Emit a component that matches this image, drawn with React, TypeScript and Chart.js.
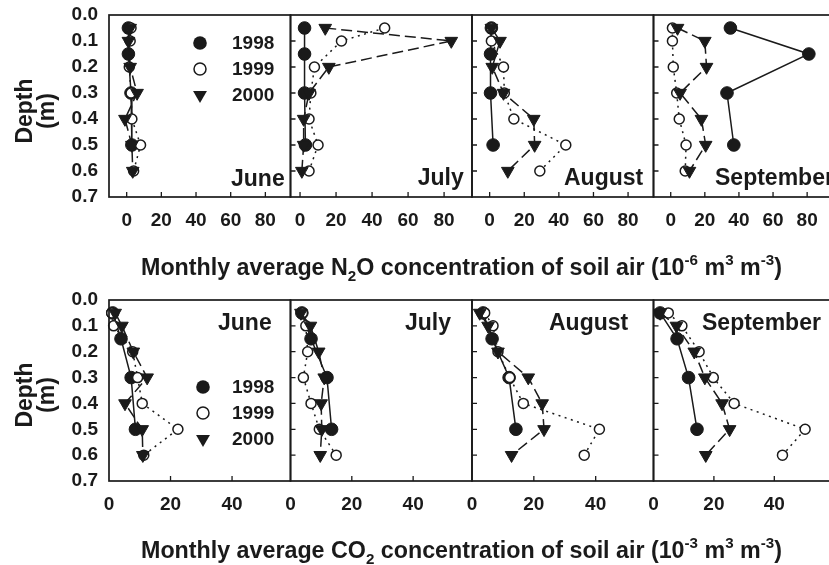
import React, { useEffect, useRef } from 'react';
import { Chart, registerables } from 'chart.js';

Chart.register(...registerables);

// ---------------- data ----------------
const MONTHS = ['June', 'July', 'August', 'September'];
const YEARS = ['1998', '1999', '2000'];

const DEPTHS_1998 = [0.05, 0.15, 0.3, 0.5];
const DEPTHS_1999_2000 = [0.05, 0.1, 0.2, 0.3, 0.4, 0.5, 0.6];

const DEPTH_TICKS = [0, 0.1, 0.2, 0.3, 0.4, 0.5, 0.6, 0.7];
const N2O_TICKS = [0, 20, 40, 60, 80];
const CO2_TICKS = [0, 20, 40];

// N2O (10^-6 m3 m-3), one row per month (June, July, August, September)
const N2O_1998 = [
  [1, 1, 2.5, 3],
  [2.5, 2.5, 2.5, 3],
  [1, 0.5, 0.5, 2],
  [35, 81, 33, 37],
];
const N2O_1999 = [
  [2.5, 2, 1.5, 2.5, 3, 8, 4],
  [47, 23, 8, 6, 5, 10, 5],
  [1, 1, 8, 8.5, 14, 44, 29],
  [1, 1, 1.5, 3.5, 5, 9, 8.5],
];
const N2O_2000 = [
  [2, 1, 2, 6, -1, 3, 3.5],
  [14, 84, 16, 5, 2, 2, 1],
  [1, 6, 1.5, 8, 25.5, 26, 10.5],
  [4, 20, 21, 5.5, 18, 20.5, 11],
];

// CO2 (10^-3 m3 m-3)
const CO2_1998 = [
  [1.2, 3.9, 7.2, 8.6],
  [3.7, 6.7, 11.9, 13.4],
  [3.6, 6.5, 12, 14.2],
  [2.2, 7.8, 11.6, 14.4],
];
const CO2_1999 = [
  [0.9, 1.5, 7.7, 9.3, 10.8, 22.4, 11.3],
  [3.9, 5, 5.6, 4.2, 6.7, 9.4, 14.9],
  [4.1, 6.8, 8.4, 12.2, 16.6, 41.2, 36.3],
  [4.9, 9.4, 15.1, 19.8, 26.7, 50.2, 42.7],
];
const CO2_2000 = [
  [2, 4.2, 7.9, 12.4, 5.2, 10.8, 11],
  [3.4, 6.5, 9.2, 11, 10, 10.2, 9.7],
  [2.5, 5.2, 8.4, 18.2, 22.7, 23.3, 12.8],
  [2.2, 7.6, 13.5, 17, 22.7, 25.2, 17.3],
];

const N2O_TITLE = [
  { t: 'Monthly average N' }, { t: '2', s: 'sub' }, { t: 'O concentration of soil air (10' },
  { t: '-6', s: 'sup' }, { t: ' m' }, { t: '3', s: 'sup' }, { t: ' m' }, { t: '-3', s: 'sup' }, { t: ')' },
];
const CO2_TITLE = [
  { t: 'Monthly average CO' }, { t: '2', s: 'sub' }, { t: ' concentration of soil air (10' },
  { t: '-3', s: 'sup' }, { t: ' m' }, { t: '3', s: 'sup' }, { t: ' m' }, { t: '-3', s: 'sup' }, { t: ')' },
];
const Y_LABEL = ['Depth', '(m)'];

// ---------------- layout / style ----------------
const CANVAS_W = 840;
const CANVAS_H = 565;
const INK = '#1a1a1a';
const FONT = '"Liberation Sans", Arial, Helvetica, sans-serif';
const COL_EDGES = [109, 290.5, 472, 653.5, 835];
const ROW_BOXES = [
  { top: 15, bottom: 197 },
  { top: 300, bottom: 481 },
];
const N2O_RANGES = [[-10.2, 94.5], [-5.3, 95.5], [-10.2, 94.7], [-10.1, 94.4]];
const CO2_RANGES = [[0, 59], [0, 59.2], [0, 58.7], [0, 59]];
const Y_AXIS_W = 60;
const X_AXIS_H = 50;
const MONTH_POS = [
  [[231, 186], [417.7, 185], [564, 185], [715, 185]],
  [[218, 330], [405, 330], [549, 330], [702, 330]],
];
const LEGEND_POS = [
  { mx: 200, tx: 232, ys: [43, 69, 95] },
  { mx: 203, tx: 232, ys: [387, 413, 439] },
];
const TITLE_POS = [
  { x: 141, y: 275, w: 641 },
  { x: 141, y: 558, w: 641 },
];
const DEPTH_LABEL_POS = [
  { cy: 111, x1: 32, x2: 54 },
  { cy: 395, x1: 32, x2: 54 },
];

const SERIES_STYLE = [
  { pointStyle: 'circle', pointRadius: 6.3, pointRotation: 0, pointBackgroundColor: INK, pointBorderWidth: 1, borderDash: [] as number[], order: 2 },
  { pointStyle: 'circle', pointRadius: 5, pointRotation: 0, pointBackgroundColor: '#ffffff', pointBorderWidth: 1.5, borderDash: [2, 4.5], order: 1 },
  { pointStyle: 'triangle', pointRadius: 7.3, pointRotation: 180, pointBackgroundColor: INK, pointBorderWidth: 1, borderDash: [11, 5], order: 0 },
];

function drawRich(ctx: CanvasRenderingContext2D, parts: any[], x: number, y: number, size: number, targetW: number) {
  const small = Math.round(size * 0.66);
  const fontFor = (p: any) => `bold ${p.s ? small : size}px ${FONT}`;
  let total = 0;
  for (const p of parts) {
    ctx.font = fontFor(p);
    total += ctx.measureText(p.t).width;
  }
  let sc = targetW / total;
  if (sc < 0.8 || sc > 1.25) sc = 1;
  ctx.save();
  ctx.translate(x, y);
  ctx.scale(sc, 1);
  ctx.textAlign = 'left';
  ctx.textBaseline = 'alphabetic';
  ctx.fillStyle = INK;
  let cx = 0;
  for (const p of parts) {
    ctx.font = fontFor(p);
    const dy = p.s === 'sub' ? size * 0.27 : p.s === 'sup' ? -size * 0.42 : 0;
    ctx.fillText(p.t, cx, dy);
    cx += ctx.measureText(p.t).width;
  }
  ctx.restore();
}

function drawMarker(ctx: CanvasRenderingContext2D, kind: number, x: number, y: number) {
  ctx.save();
  ctx.strokeStyle = INK;
  ctx.fillStyle = INK;
  ctx.beginPath();
  if (kind === 0) {
    ctx.arc(x, y, 6.8, 0, Math.PI * 2);
    ctx.fill();
  } else if (kind === 1) {
    ctx.arc(x, y, 6, 0, Math.PI * 2);
    ctx.fillStyle = '#fff';
    ctx.fill();
    ctx.lineWidth = 1.5;
    ctx.stroke();
  } else {
    const r = 8;
    ctx.moveTo(x, y + r);
    ctx.lineTo(x - r * 0.866, y - r * 0.5);
    ctx.lineTo(x + r * 0.866, y - r * 0.5);
    ctx.closePath();
    ctx.fill();
  }
  ctx.restore();
}

function makePlugin(row: number, col: number) {
  return {
    id: 'panelDecor' + row + col,
    afterDraw(chart: any) {
      const ctx: CanvasRenderingContext2D = chart.ctx;
      const { left, right, top, bottom } = chart.chartArea;
      const xs = chart.scales.x;
      const ys = chart.scales.y;
      ctx.save();
      ctx.strokeStyle = INK;
      ctx.lineWidth = 1.7;
      ctx.strokeRect(left, top, right - left, bottom - top);
      // inward ticks
      ctx.lineWidth = 1.3;
      ctx.beginPath();
      const xt = row === 0 ? N2O_TICKS : CO2_TICKS;
      for (const v of xt) {
        const px = xs.getPixelForValue(v);
        if (px > left + 2 && px < right - 2) {
          ctx.moveTo(px, bottom);
          ctx.lineTo(px, bottom - 5);
        }
      }
      if (col > 0) {
        for (const v of DEPTH_TICKS) {
          const py = ys.getPixelForValue(v);
          if (py > top + 2 && py < bottom - 2) {
            ctx.moveTo(left, py);
            ctx.lineTo(left + 5, py);
          }
        }
      }
      ctx.stroke();
      // month label
      ctx.fillStyle = INK;
      ctx.font = `bold 23px ${FONT}`;
      ctx.textAlign = 'left';
      ctx.textBaseline = 'alphabetic';
      const mp = MONTH_POS[row][col];
      ctx.fillText(MONTHS[col], mp[0], mp[1]);
      if (col === 0) {
        // legend
        const lg = LEGEND_POS[row];
        ctx.font = `bold 19px ${FONT}`;
        ctx.textBaseline = 'middle';
        YEARS.forEach((yr, i) => {
          drawMarker(ctx, i, lg.mx, lg.ys[i]);
          ctx.fillStyle = INK;
          ctx.fillText(yr, lg.tx, lg.ys[i] + 1);
        });
        // y axis title
        const dp = DEPTH_LABEL_POS[row];
        ctx.font = `bold 23px ${FONT}`;
        ctx.textAlign = 'center';
        ctx.textBaseline = 'alphabetic';
        ctx.save();
        ctx.translate(dp.x1, dp.cy);
        ctx.rotate(-Math.PI / 2);
        ctx.fillText(Y_LABEL[0], 0, 0);
        ctx.restore();
        ctx.save();
        ctx.translate(dp.x2, dp.cy);
        ctx.rotate(-Math.PI / 2);
        ctx.fillText(Y_LABEL[1], 0, 0);
        ctx.restore();
        // x axis title
        const tp = TITLE_POS[row];
        drawRich(ctx, row === 0 ? N2O_TITLE : CO2_TITLE, tp.x, tp.y, 23, tp.w);
      }
      ctx.restore();
    },
  };
}

function buildConfig(row: number, col: number): any {
  const isN2O = row === 0;
  const seriesVals = isN2O ? [N2O_1998, N2O_1999, N2O_2000] : [CO2_1998, CO2_1999, CO2_2000];
  const depthsFor = [DEPTHS_1998, DEPTHS_1999_2000, DEPTHS_1999_2000];
  const [xmin, xmax] = (isN2O ? N2O_RANGES : CO2_RANGES)[col];
  const xt = isN2O ? N2O_TICKS : CO2_TICKS;
  const box = ROW_BOXES[row];
  const left = COL_EDGES[col];
  const right = COL_EDGES[col + 1];
  const yw = col === 0 ? Y_AXIS_W : 0;
  const tickFont = { family: FONT, size: 19, weight: 'bold' as const };

  const datasets = YEARS.map((yr, i) => {
    const st = SERIES_STYLE[i];
    const vals = seriesVals[i][col];
    return {
      label: yr,
      data: depthsFor[i].map((d, k) => ({ x: vals[k], y: d })),
      borderColor: INK,
      borderWidth: 1.5,
      borderDash: st.borderDash,
      fill: false,
      tension: 0,
      pointStyle: st.pointStyle,
      pointRadius: st.pointRadius,
      pointRotation: st.pointRotation,
      pointBackgroundColor: st.pointBackgroundColor,
      pointBorderColor: INK,
      pointBorderWidth: st.pointBorderWidth,
      order: st.order,
      clip: false,
    };
  });

  return {
    type: 'line',
    data: { datasets },
    options: {
      responsive: false,
      animation: false,
      events: [],
      devicePixelRatio: 1,
      layout: {
        padding: {
          left: left - yw,
          right: CANVAS_W - right,
          top: box.top,
          bottom: CANVAS_H - box.bottom - X_AXIS_H,
        },
      },
      plugins: { legend: { display: false }, tooltip: { enabled: false }, title: { display: false } },
      scales: {
        x: {
          type: 'linear',
          min: xmin,
          max: xmax,
          grid: { display: false, drawTicks: false },
          border: { display: false },
          afterBuildTicks: (s: any) => { s.ticks = xt.map((v) => ({ value: v })); },
          afterFit: (s: any) => {
            s.height = X_AXIS_H;
            s.paddingLeft = 0;
            s.paddingRight = 0;
          },
          ticks: {
            color: INK,
            font: tickFont,
            padding: 12,
            maxRotation: 0,
            autoSkip: false,
            callback: (v: any) => String(v),
          },
        },
        y: {
          type: 'linear',
          reverse: true,
          min: 0,
          max: 0.7,
          display: col === 0,
          grid: { display: false, drawTicks: false },
          border: { display: false },
          afterBuildTicks: (s: any) => { s.ticks = DEPTH_TICKS.map((v) => ({ value: v })); },
          afterFit: (s: any) => {
            s.width = yw;
            s.paddingTop = 0;
            s.paddingBottom = 0;
          },
          ticks: {
            color: INK,
            font: tickFont,
            padding: 11,
            autoSkip: false,
            callback: (v: any) => Number(v).toFixed(1),
          },
        },
      },
    },
    plugins: [makePlugin(row, col)],
  };
}

export default function App() {
  const refs = useRef<(HTMLCanvasElement | null)[]>([]);
  useEffect(() => {
    const charts: Chart[] = [];
    for (let r = 0; r < 2; r++) {
      for (let c = 0; c < 4; c++) {
        const cv = refs.current[r * 4 + c];
        if (cv) charts.push(new Chart(cv, buildConfig(r, c)));
      }
    }
    return () => charts.forEach((ch) => ch.destroy());
  }, []);
  return (
    <div style={{ position: 'fixed', left: 0, top: 0, width: 829, height: 565, overflow: 'hidden', background: '#ffffff' }}>
      {Array.from({ length: 8 }).map((_, i) => (
        <canvas
          key={i}
          ref={(el) => { refs.current[i] = el; }}
          width={CANVAS_W}
          height={CANVAS_H}
          style={{ position: 'absolute', left: 0, top: 0, width: CANVAS_W, height: CANVAS_H }}
        />
      ))}
    </div>
  );
}
